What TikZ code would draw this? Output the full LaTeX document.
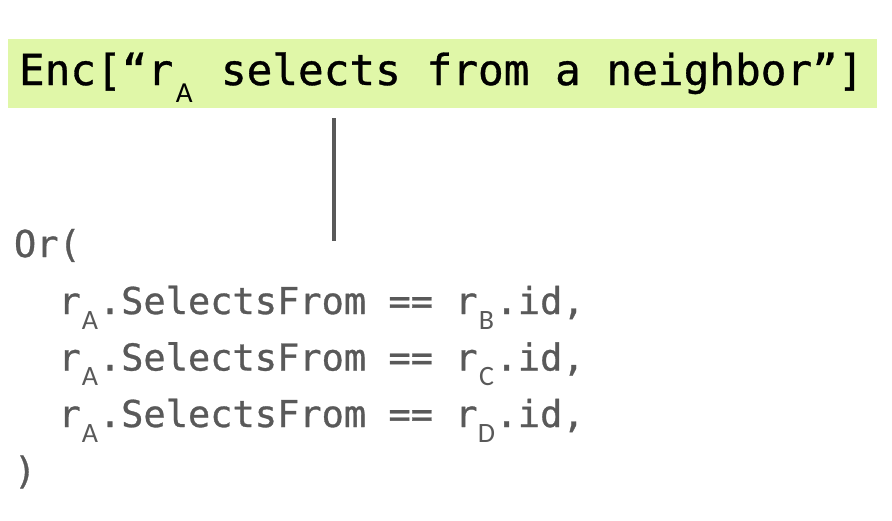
\documentclass[tikz,border=0pt]{standalone}
\usepackage{fontspec}
\newfontfamily\monofont[FakeBold=0.8]{DejaVu Sans Mono}
\newfontfamily\subfont{Carlito}
\definecolor{encgreen}{RGB}{224,247,168}
\definecolor{codegrey}{RGB}{89,89,89}
\newcommand\hsub[1]{\raisebox{-17pt}{\makebox[22pt][c]{\subfont\fontsize{29}{29}\selectfont #1}}}
\newcommand\csub[1]{\raisebox{-15pt}{\makebox[18pt][c]{\subfont\fontsize{28}{28}\selectfont #1}}}
\tikzset{
  encbox/.style={fill=encgreen, minimum width=869pt, minimum height=69pt, anchor=north west},
  enctext/.style={anchor=base west, text=black, font=\monofont\fontsize{42.7}{50}\selectfont},
  codeline/.style={anchor=base west, text=codegrey, font=\monofont\fontsize{37}{44}\selectfont},
  connector/.style={draw=codegrey, line width=4pt}
}
\begin{document}
\begin{tikzpicture}[x=1pt,y=-1pt, every node/.style={inner sep=0pt, outer sep=0pt}]
\useasboundingbox (0,0) rectangle (892,520);
\node[encbox] (box) at (8,39) {};
\node[enctext] (enc) at (19,85) {Enc[“r\hsub{A} selects from a neighbor”]};
\coordinate (ltop) at (334,118);
\coordinate (lbot) at (334,241);
\draw[connector] (ltop) -- (lbot);
\node[codeline] (or) at (14,257) {Or(};
\node[codeline] (l1) at (58.6,314) {r\csub{A}.SelectsFrom == r\csub{B}.id,};
\node[codeline] (l2) at (58.6,370.5) {r\csub{A}.SelectsFrom == r\csub{C}.id,};
\node[codeline] (l3) at (58.6,427) {r\csub{A}.SelectsFrom == r\csub{D}.id,};
\node[codeline] (cl) at (14,483.5) {)};
\end{tikzpicture}
\end{document}
